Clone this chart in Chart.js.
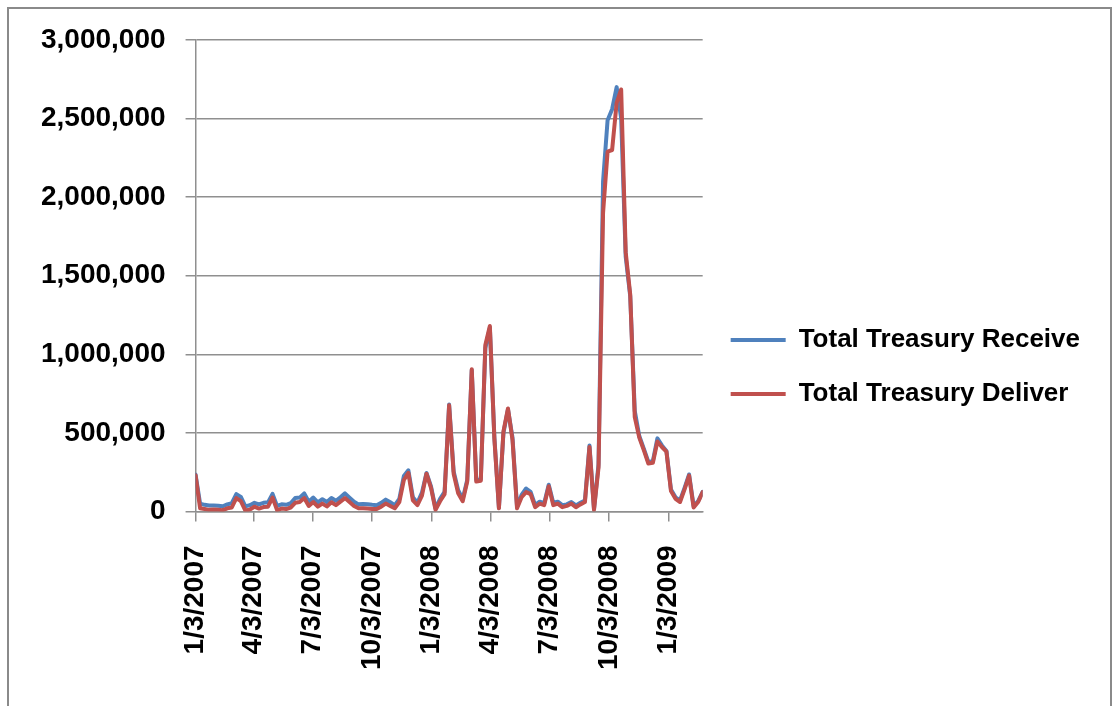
<!DOCTYPE html>
<html>
<head>
<meta charset="utf-8">
<script src="https://cdn.jsdelivr.net/npm/chart.js@4.4.1/dist/chart.umd.min.js"></script>
<style>
  html, body { margin: 0; padding: 0; background: #fff; }
  #wrap { position: relative; width: 1117px; height: 706px; overflow: hidden; }
  #frame { position: absolute; left: 7px; top: 7px; width: 1101px; height: 720px; border: 2px solid #8a8a8a; pointer-events: none; }
  canvas { position: absolute; left: 0; top: 0; }
</style>
</head>
<body>
<div id="wrap">
  <canvas id="chart" width="1117" height="706"></canvas>
  <div id="frame"></div>
</div>
<script>
// weekly values, first week = 1/3/2007
const firstWeek = '1/3/2007'
const receive = [
  235000, 50000, 42000, 38000, 38000, 36000, 33000, 45000, 52000, 110000,
  92000, 32000, 40000, 55000, 45000, 55000, 58000, 112000, 35000, 45000,
  42000, 52000, 85000, 88000, 115000, 62000, 88000, 58000, 78000, 60000,
  85000, 68000, 90000, 115000, 88000, 62000, 45000, 48000, 45000, 42000,
  40000, 55000, 75000, 58000, 40000, 80000, 225000, 262000, 90000, 55000,
  120000, 245000, 160000, 20000, 80000, 125000, 680000, 255000, 135000, 80000,
  200000, 900000, 200000, 205000, 1040000, 1170000, 470000, 25000, 500000, 650000,
  470000, 30000, 105000, 146000, 125000, 40000, 62000, 52000, 170000, 55000,
  62000, 40000, 45000, 60000, 38000, 55000, 70000, 420000, 15000, 300000,
  2100000, 2490000, 2560000, 2700000, 2500000, 1620000, 1370000, 640000, 480000, 400000,
  315000, 320000, 465000, 420000, 385000, 140000, 90000, 70000, 150000, 235000,
  35000, 65000, 125000
]
const deliver = [
  230000, 20000, 15000, 10000, 12000, 10000, 8000, 20000, 25000, 85000,
  65000, 5000, 12000, 30000, 18000, 28000, 30000, 88000, 8000, 18000,
  15000, 25000, 55000, 60000, 85000, 35000, 60000, 30000, 50000, 32000,
  58000, 40000, 62000, 85000, 60000, 35000, 20000, 20000, 18000, 15000,
  15000, 30000, 50000, 35000, 20000, 60000, 200000, 245000, 70000, 40000,
  100000, 240000, 150000, 10000, 65000, 110000, 675000, 240000, 115000, 65000,
  190000, 905000, 190000, 195000, 1060000, 1180000, 460000, 20000, 510000, 655000,
  455000, 20000, 90000, 123000, 110000, 27000, 50000, 40000, 160000, 40000,
  50000, 27000, 35000, 50000, 27000, 45000, 60000, 410000, 10000, 280000,
  1900000, 2290000, 2300000, 2600000, 2685000, 1650000, 1380000, 600000, 470000, 390000,
  305000, 310000, 445000, 410000, 380000, 130000, 80000, 60000, 140000, 228000,
  25000, 60000, 123000
]
const tickLabels = ['1/3/2007', '4/3/2007', '7/3/2007', '10/3/2007', '1/3/2008',
  '4/3/2008', '7/3/2008', '10/3/2008', '1/3/2009']
const yTicks = [0, 500000, 1000000, 1500000, 2000000, 2500000, 3000000]

const toUTC = (s) => {
  const [m, d, y] = s.split('/').map(Number)
  return Date.UTC(y, m - 1, d)
}
const dayOf = (s) => (toUTC(s) - toUTC(firstWeek)) / 86400000

const weekDay = receive.map((_, i) => i * 7)
const toPoints = (arr) => arr.map((v, i) => ({ x: weekDay[i], y: v }))

const FONT = "'Liberation Sans', Arial, sans-serif"
const GRID = '#8f8f8f'

const ctx = document.getElementById('chart')
new Chart(ctx, {
  type: 'line',
  data: {
    datasets: [{
      label: 'Total Treasury Receive',
      data: toPoints(receive),
      borderColor: '#4F81BD',
      backgroundColor: '#4F81BD',
      borderWidth: 4,
      pointRadius: 0,
      tension: 0,
      borderJoinStyle: 'round',
      borderCapStyle: 'round',
      order: 2
    }, {
      label: 'Total Treasury Deliver',
      data: toPoints(deliver),
      borderColor: '#C0504D',
      backgroundColor: '#C0504D',
      borderWidth: 4,
      pointRadius: 0,
      tension: 0,
      borderJoinStyle: 'round',
      borderCapStyle: 'round',
      order: 1
    }]
  },
  options: {
    responsive: false,
    animation: false,
    layout: { autoPadding: false, padding: { left: 21, top: 40, right: 27, bottom: 12 } },
    plugins: {
      tooltip: { enabled: false },
      legend: {
        position: 'right',
        maxWidth: 600,
        labels: {
          usePointStyle: true,
          pointStyle: 'line',
          pointStyleWidth: 55,
          padding: 28,
          color: '#000',
          font: { family: FONT, size: 26, weight: 'bold' },
          sort: (a, b) => a.datasetIndex - b.datasetIndex
        }
      }
    },
    scales: {
      x: {
        type: 'linear',
        min: 0,
        max: weekDay[weekDay.length - 1],
        afterBuildTicks: (axis) => {
          axis.ticks = tickLabels.map(l => ({ value: dayOf(l) }))
        },
        grid: { drawOnChartArea: false, drawTicks: true, tickLength: 10, color: GRID, lineWidth: 1.5 },
        border: { display: true, color: GRID, width: 1.5 },
        ticks: {
          autoSkip: false,
          maxRotation: 90,
          minRotation: 90,
          padding: 24,
          color: '#000',
          font: { family: FONT, size: 28, weight: 'bold' },
          callback: (value, index) => tickLabels[index]
        }
      },
      y: {
        min: 0,
        max: 3000000,
        afterBuildTicks: (axis) => {
          axis.ticks = yTicks.map(v => ({ value: v }))
        },
        grid: { tickLength: 10, color: GRID, lineWidth: 1.5 },
        border: { display: true, color: GRID, width: 1.5 },
        ticks: {
          padding: 20,
          color: '#000',
          font: { family: FONT, size: 28, weight: 'bold' },
          callback: (v) => v.toLocaleString('en-US')
        }
      }
    }
  }
})
</script>
</body>
</html>
